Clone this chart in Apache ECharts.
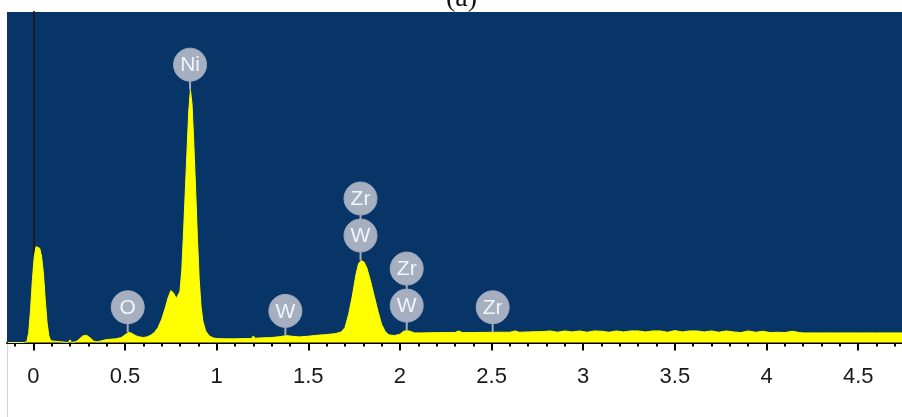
<!DOCTYPE html>
<html>
<head>
<meta charset="utf-8">
<script src="https://cdn.jsdelivr.net/npm/echarts@6/dist/echarts.min.js"></script>
<style>
html,body{margin:0;padding:0;background:#fff;}
#chart{width:902px;height:417px;}
</style>
</head>
<body>
<div id="chart"></div>
<script>
// Spectrum (energy in keV, counts in % of full scale)
const energy = [
  -0.14, -0.05, -0.035, -0.025, -0.015, -0.005, 0.005, 0.015, 0.025, 0.035, 0.045, 0.055, 0.065, 0.075, 0.085, 0.095, 0.105,
  0.19, 0.20, 0.21, 0.235, 0.25, 0.27, 0.29, 0.31, 0.33, 0.35, 0.36, 0.40, 0.45, 0.48, 0.50, 0.52, 0.54, 0.56, 0.58, 0.60,
  0.62, 0.64, 0.66, 0.68, 0.70, 0.72, 0.735, 0.75, 0.765, 0.78, 0.79, 0.80, 0.81, 0.82, 0.83, 0.84, 0.848, 0.857, 0.866,
  0.875, 0.885, 0.895, 0.905, 0.915, 0.925, 0.94, 0.96, 0.98, 1.00, 1.05, 1.10, 1.15, 1.19, 1.20, 1.21, 1.25, 1.30, 1.35,
  1.38, 1.41, 1.45, 1.50, 1.55, 1.60, 1.65, 1.68, 1.70, 1.72, 1.74, 1.76, 1.775, 1.79, 1.805, 1.82, 1.84, 1.86, 1.88, 1.90,
  1.92, 1.94, 1.97, 2.00, 2.02, 2.04, 2.06, 2.08, 2.12, 2.20, 2.30, 2.32, 2.34, 2.40, 2.50, 2.60, 2.63, 2.65, 2.70, 2.78,
  2.82, 2.86, 2.90, 2.94, 2.98, 3.02, 3.06, 3.10, 3.14, 3.18, 3.22, 3.26, 3.30, 3.34, 3.38, 3.42, 3.46, 3.50, 3.54, 3.58,
  3.62, 3.66, 3.70, 3.74, 3.78, 3.82, 3.86, 3.90, 3.94, 3.98, 4.02, 4.06, 4.10, 4.14, 4.18, 4.20, 4.30, 4.40, 4.50, 4.60, 4.74
];
const counts = [
  0, 0, 0.3, 3, 10, 19, 26, 29, 29.3, 28.5, 26, 21, 13, 6, 2, 0.5, 0,
  0, 0.8, 0, 0.3, 1.0, 2.0, 2.2, 1.4, 0.4, 0.2, 0.8, 0.9, 1.1, 1.5, 2.3, 3.1, 2.7, 2.0, 1.7, 1.5,
  1.7, 2.2, 3.0, 4.5, 7, 10.5, 13.5, 15.7, 15, 13.3, 13, 15.5, 22, 34, 47, 60, 70, 76.5, 72,
  61, 47, 32, 19, 11, 6.5, 3.5, 2, 1.4, 1.2, 1.1, 1.1, 1.2, 1.2, 2.0, 1.3, 1.4, 1.5, 1.8,
  2.1, 1.9, 1.7, 1.9, 2.2, 2.4, 2.7, 3.2, 4.5, 8.5, 14, 20.5, 24, 24.8, 24.3, 22.5, 18.5, 14, 9.5, 5.5,
  3.3, 2.3, 2.1, 2.5, 3.4, 3.6, 3.3, 2.9, 2.9, 3.0, 3.0, 3.5, 3.0, 3.0, 3.1, 3.1, 3.5, 3.1, 3.2, 3.3,
  3.5, 3.1, 3.5, 3.2, 3.5, 3.1, 3.5, 3.4, 3.1, 3.5, 3.2, 3.5, 3.5, 3.2, 3.5, 3.5, 3.1, 3.6, 3.2, 3.5,
  3.5, 3.2, 3.5, 3.1, 3.5, 3.2, 3.0, 3.5, 3.1, 3.4, 3.0, 3.1, 3.0, 3.4, 3.0, 2.9, 2.9, 2.9, 2.9, 2.9, 2.9
];

// Element identification markers
const peakKeV = [0.515, 0.855, 1.375, 1.785, 2.037, 2.506];
const peakTop = [3.1, 76.5, 2.0, 24.8, 3.6, 3.1];
const peakElements = [['O'], ['Ni'], ['W'], ['W', 'Zr'], ['W', 'Zr'], ['Zr']];

// Axis ticks
const tickValues = [0, 0.5, 1, 1.5, 2, 2.5, 3, 3.5, 4, 4.5];
const tickLabels = ['0', '0.5', '1', '1.5', '2', '2.5', '3', '3.5', '4', '4.5'];
const minorTickValues = [
  -0.1, 0.1, 0.2, 0.3, 0.4, 0.6, 0.7, 0.8, 0.9, 1.1, 1.2, 1.3, 1.4, 1.6, 1.7, 1.8, 1.9,
  2.1, 2.2, 2.3, 2.4, 2.6, 2.7, 2.8, 2.9, 3.1, 3.2, 3.3, 3.4, 3.6, 3.7, 3.8, 3.9,
  4.1, 4.2, 4.3, 4.4, 4.6, 4.7
];

const X_MIN = -0.1436, X_MAX = 4.739;

const chart = echarts.init(document.getElementById('chart'), null, {renderer: 'canvas'});
const option = {
  animation: false,
  title: {
    text: '(a)', left: 441, top: -20,
    textStyle: {fontFamily: 'Liberation Serif', fontSize: 28, fontWeight: 'normal', color: '#111'}
  },
  grid: {left: 7, right: 0, top: 12, bottom: 74.5, show: true, backgroundColor: '#083568', borderWidth: 0},
  xAxis: [{
    type: 'value', min: X_MIN, max: X_MAX, position: 'bottom',
    axisLine: {show: true, onZero: false, lineStyle: {color: '#000', width: 2}},
    axisTick: {show: true, inside: false, length: 8, lineStyle: {color: '#000', width: 2}, customValues: tickValues},
    axisLabel: {
      show: true, margin: 23, customValues: tickValues,
      formatter: function (v) { const i = tickValues.indexOf(v); return i >= 0 ? tickLabels[i] : ''; },
      fontFamily: 'Liberation Sans', fontSize: 22, color: '#1a1a1a'
    },
    splitLine: {show: false}
  }, {
    type: 'value', min: X_MIN, max: X_MAX, position: 'bottom',
    axisLine: {show: false, onZero: false},
    axisTick: {show: true, inside: false, length: 4, lineStyle: {color: '#000', width: 2}, customValues: minorTickValues},
    axisLabel: {show: false},
    splitLine: {show: false}
  }],
  yAxis: {
    type: 'value', min: 0, max: 100,
    axisLine: {show: true, onZero: true, lineStyle: {color: '#1c1c1c', width: 2}},
    axisTick: {show: false}, axisLabel: {show: false}, splitLine: {show: false}
  },
  graphic: [{
    type: 'line', shape: {x1: 7.5, y1: 344, x2: 7.5, y2: 417},
    style: {stroke: '#d4d4d4', lineWidth: 1}, silent: true
  }],
  series: [{
    type: 'line',
    xAxisIndex: 0,
    data: energy.map((e, i) => [e, counts[i]]),
    showSymbol: false,
    lineStyle: {color: '#ffff00', width: 1},
    areaStyle: {color: '#ffff00', opacity: 1},
    z: 2
  }, {
    type: 'custom',
    xAxisIndex: 0,
    z: 5,
    data: peakKeV.map((k, i) => [k, peakTop[i]]),
    renderItem: function (params, api) {
      const p = api.coord([api.value(0), api.value(1)]);
      const elems = peakElements[params.dataIndex];
      const first = 25, gap = 37, r = 16.5;
      const topY = p[1] - first - gap * (elems.length - 1);
      const children = [{
        type: 'line',
        shape: {x1: p[0], y1: p[1], x2: p[0], y2: topY},
        style: {stroke: '#a3acbd', lineWidth: 2}
      }];
      elems.forEach(function (el, i) {
        const cy = p[1] - first - gap * i;
        children.push({type: 'circle', shape: {cx: p[0], cy: cy, r: r}, style: {fill: '#a6afc0', stroke: '#9ea8ba', lineWidth: 1}});
        children.push({type: 'text', style: {
          text: el, x: p[0], y: cy + 1, align: 'center', verticalAlign: 'middle',
          fill: '#f1f4fa', fontSize: 21, fontFamily: 'Liberation Sans'
        }});
      });
      return {type: 'group', children: children};
    }
  }]
};
chart.setOption(option);
</script>
</body>
</html>
